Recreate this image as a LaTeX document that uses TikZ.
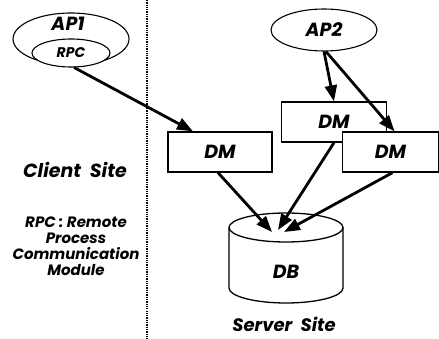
\documentclass[tikz,border=0pt]{standalone}
\usepackage{fontspec}
\setmainfont{Poppins}
\usetikzlibrary{arrows.meta,shapes.geometric}
\begin{document}
\begin{tikzpicture}[x=1pt,y=-1pt,
  lbl/.style={font=\fontsize{#1}{#1}\selectfont\bfseries\itshape, inner sep=0pt},
  oval/.style={draw, ellipse, line width=1.1pt, fill=white, inner sep=0pt},
  dmbox/.style={draw, rectangle, line width=1.3pt, fill=white, minimum width=#1, minimum height=40pt, inner sep=0pt,
    font=\fontsize{19}{19}\selectfont\bfseries\itshape},
  conn/.style={line width=2.8pt, -{Triangle[length=16pt,width=12pt]}},
  sitesep/.style={line width=1.2pt, dash pattern=on 1.3pt off 1pt}
]
\useasboundingbox (0,0) rectangle (439,339);
% separator
\coordinate (sepT) at (147,0);
\coordinate (sepB) at (147,339);
\draw[sitesep] (sepT) -- (sepB);
% AP1 with RPC
\node[oval, minimum width=116pt, minimum height=52pt] (ap1) at (71,39) {};
\node[lbl=19] (ap1t) at (68,24) {AP1};
\node[oval, minimum width=78pt, minimum height=28pt, font=\fontsize{14}{14}\selectfont\bfseries\itshape] (rpc) at (71,53) {RPC};
% AP2
\node[oval, minimum width=106pt, minimum height=42pt, font=\fontsize{19}{19}\selectfont\bfseries\itshape] (ap2) at (324,30) {AP2};
% DMs
\node[dmbox=104pt] (dm1) at (220,152) {DM};
\node[dmbox=105pt] (dm2) at (334,122) {DM};
% DB cylinder
\coordinate (dbc) at (286,227.5);
\draw[line width=1.3pt, fill=white] (229,227.5) -- (229,288) arc[start angle=180,end angle=360,x radius=57,y radius=-15] -- (343,227.5);
\draw[line width=1.3pt, fill=white] (dbc) ellipse[x radius=57, y radius=14.5];
\node[lbl=19] (db) at (286,272) {DB};
\coordinate (dbA) at (272,232);
\coordinate (dbB) at (278,230);
\coordinate (dbC) at (284,232);
% arrows
\draw[conn] (rpc.-78) -- ([xshift=-27pt]dm1.north);
\draw[conn] (ap2.south) -- (dm2.north);
\draw[conn] (dm1.south) ++(-2,0) coordinate (dm1s) (dm1s) -- (dbA);
\draw[conn] (dm2.south) -- (dbB);
% DM3 on top
\node[dmbox=96pt] (dm3) at (390.5,152) {DM};
\draw[conn] ([xshift=2pt]ap2.south) -- ([xshift=4pt]dm3.north);
\draw[conn] ([xshift=2pt]dm3.south) -- (dbC);
% texts
\node[lbl=19] (client) at (75,170) {Client\ \ Site};
\node[lbl=15, align=center, font=\fontsize{15}{16}\selectfont\bfseries\itshape] (rpcnote) at (76,246) {RPC : Remote\\Process\\Communication\\Module};
\node[lbl=18] (server) at (284,324) {Server\ \ Site};
\end{tikzpicture}
\end{document}
